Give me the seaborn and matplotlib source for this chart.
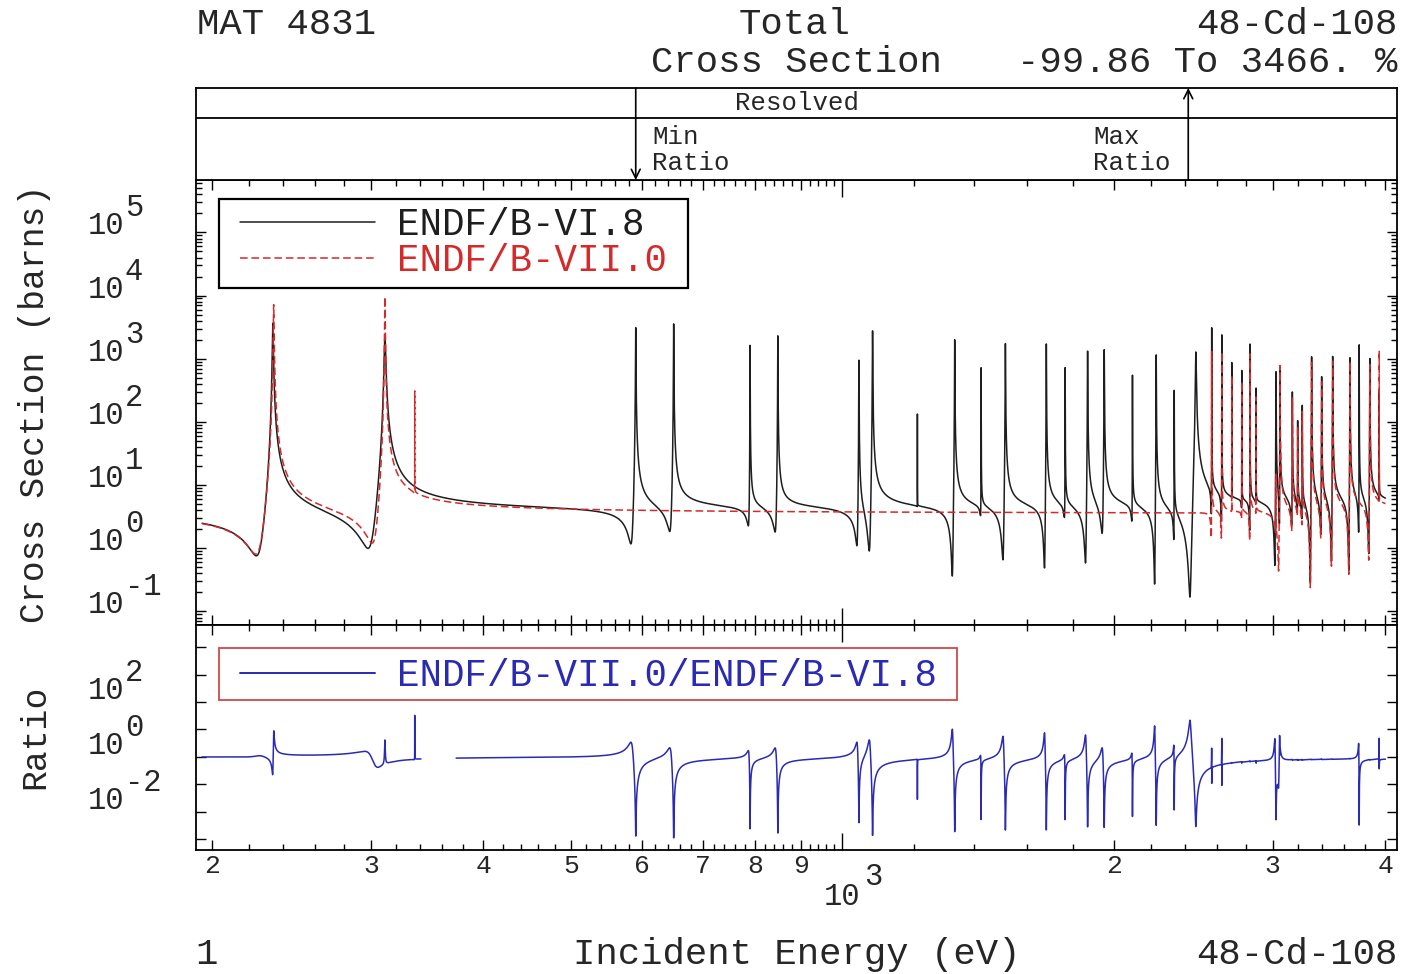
import numpy as np
import pandas as pd
import matplotlib
matplotlib.use("Agg")
import matplotlib.pyplot as plt
import seaborn as sns
from matplotlib.ticker import FixedLocator, NullFormatter, NullLocator
from matplotlib.transforms import blended_transform_factory, offset_copy
from matplotlib.lines import Line2D
from matplotlib.patches import Rectangle

# ---------------- values ----------------
energy_span = [195.0, 4000.0]          # eV, where the evaluations are drawn
x_limits = [192.0, 4120.0]
xs_limits = [10 ** -1.214, 10 ** 5.83]
ratio_limits = [10 ** -3.4, 10 ** 4.81]

bg_vi8 = 3.7      # barns, smooth level between resonances
bg_vii0 = 3.6

# ENDF/B-VI.8 resonances: energy (eV), peak (b), dip (b), dip distance below peak (eV)
vi8_energy = [233.6, 311.0, 590, 650, 790, 848, 1043, 1080, 1211, 1332, 1425, 1516,
              1683, 1766, 1870, 1951, 2097, 2228, 2333, 2465,
              2567.2, 2634.3, 2702, 2772, 2831, 2875, 3025, 3056, 3154, 3197, 3235,
              3313, 3399, 3496, 3654, 3741, 3844, 3937]
vi8_peak = [4400, 1900, 2940, 2680, 1420, 1860, 1140, 1950, 105, 1700, 575, 1410,
            1380, 550, 1140, 930, 433, 1050, 340, 955,
            1290, 1210, 490, 417, 1140, 222, 520, 300, 197, 66, 128,
            750, 320, 665, 665, 955, 590, 150]
vi8_dip = [0.88, 0.78, 1.09, 1.35, 1.95, 1.44, 1.23, 0.59, 3.7, 0.30, 2.6, 0.52,
           0.38, 2.3, 0.48, 1.10, 2.1, 0.23, 1.44, 0.106,
           1.44, 1.35, 3.6, 2.8, 1.27, 3.2, 0.40, 1.0, 1.5, 2.5, 2.0,
           0.18, 1.0, 0.35, 0.26, 1.0, 0.45, 3.0]
vi8_offset = [10.6, 14.5, 8.0, 7.3, 4.0, 6.5, 6.1, 10.0, 1.0, 8.9, 2.6, 10.5,
              8.6, 4.0, 11.0, 11.5, 4.0, 10.0, 3.0, 40.0,
              3.0, 3.0, 2.0, 2.0, 3.0, 2.0, 10.0, 5.0, 6.0, 4.0, 4.0,
              12.0, 8.0, 12.0, 12.0, 6.0, 12.0, 2.0]

# ENDF/B-VII.0 resonances (same columns)
vii0_energy = [234.1, 311.0, 335.6,
               2567, 2634, 2702, 2772, 2831, 2875, 3025, 3056, 3154, 3197, 3235,
               3313, 3399, 3496, 3654, 3844, 3937]
vii0_peak = [8000, 7700, 145,
             1290, 1210, 490, 417, 1140, 222, 25, 750, 197, 66, 128,
             750, 320, 665, 665, 590, 850]
vii0_dip = [0.88, 0.94, 3.6,
            1.44, 1.35, 3.6, 2.8, 1.27, 3.2, 3.0, 0.40, 1.5, 2.5, 2.0,
            0.18, 1.0, 0.35, 0.26, 0.45, 3.6]
vii0_offset = [11.5, 11.0, 0.5,
               3.0, 3.0, 2.0, 2.0, 3.0, 2.0, 1.0, 12.0, 6.0, 4.0, 4.0,
               12.0, 8.0, 12.0, 12.0, 12.0, 3.0]

ratio_gap = [341.0, 373.0]       # eV, stretch with no ratio drawn
min_ratio_energy = 590.0
max_ratio_energy = 2418.0

x_major = [200, 300, 400, 500, 600, 700, 800, 900, 1000, 2000, 3000, 4000]
x_major_labels = ["2", "3", "4", "5", "6", "7", "8", "9", "", "2", "3", "4"]
x_minor = [e for e in list(range(220, 1000, 20)) + list(range(1200, 4001, 200))
           if e not in x_major]
xs_exponents = [-1, 0, 1, 2, 3, 4, 5]
ratio_exponents = [-3, -2, -1, 0, 1, 2, 3, 4]
ratio_label_exponents = [-2, 0, 2]

# ---------------- resonance line shapes ----------------
def res_params(bg, e0, p, d, w):
    r = min(d / bg, 0.97)
    eps = r / (1.0 - r)
    a = np.sqrt((p / bg - 1.0) * (1.0 + eps))
    g = 2.0 * w / a
    return eps, a, g


def cross_section(E, bg, energies, peaks, dips, offsets):
    s = np.full(E.shape, bg, dtype=float)
    for e0, p, d, w in zip(energies, peaks, dips, offsets):
        eps, a, g = res_params(bg, e0, p, d, w)
        t = a * (g / 2.0) / (E - e0 + 1j * g / 2.0)
        reach = np.where(E < e0, np.exp(-np.clip(e0 - E, 0, None) / (10.0 * w)), 1.0)
        t = t * reach
        s *= (np.abs(1.0 + t) ** 2 + eps) / (1.0 + eps)
    return s


grid = [np.geomspace(energy_span[0], energy_span[1], 30000)]
steps = np.geomspace(1e-2, 3e3, 400)
for bg, tab in ((bg_vi8, zip(vi8_energy, vi8_peak, vi8_dip, vi8_offset)),
                (bg_vii0, zip(vii0_energy, vii0_peak, vii0_dip, vii0_offset))):
    for e0, p, d, w in tab:
        _, _, g = res_params(bg, e0, p, d, w)
        grid.append(np.concatenate([e0 - g * steps, [e0], e0 + g * steps]))
E = np.unique(np.concatenate(grid))
E = E[(E >= energy_span[0]) & (E <= energy_span[1])]

sig6 = cross_section(E, bg_vi8, vi8_energy, vi8_peak, vi8_dip, vi8_offset)
sig7 = cross_section(E, bg_vii0, vii0_energy, vii0_peak, vii0_dip, vii0_offset)
ratio = sig7 / sig6

df = pd.DataFrame({"E": E, "VI8": sig6, "VII0": sig7, "ratio": ratio})
df["seg"] = np.where(df["E"] < ratio_gap[0], 0, np.where(df["E"] > ratio_gap[1], 1, -1))
dfr = df[df["seg"] >= 0]

# ---------------- figure ----------------
sns.set_theme(style="white")
plt.rcParams["font.family"] = ["Liberation Mono", "DejaVu Sans Mono"]
plt.rcParams["axes.edgecolor"] = "black"
plt.rcParams["axes.linewidth"] = 1.3

c_black = "#1e1e1e"
c_red = "#d42a2a"
c_blue = "#2a2ab4"

W, H = 1404, 974
def fx(px):
    return px / W
def fy(py):
    return 1 - py / H

L, R = 196, 1397
fig = plt.figure(figsize=(14.04, 9.74), dpi=100)
ax = fig.add_axes([fx(L), fy(625), (R - L) / W, (625 - 180) / H])
axr = fig.add_axes([fx(L), fy(850), (R - L) / W, (850 - 625) / H])
hax = fig.add_axes([fx(L), fy(180), (R - L) / W, (180 - 88) / H])

sns.lineplot(data=df, x="E", y="VI8", ax=ax, color=c_black, lw=1.1,
             estimator=None, sort=False, label="ENDF/B-VI.8")
sns.lineplot(data=df, x="E", y="VII0", ax=ax, color=c_red, lw=1.1,
             estimator=None, sort=False, label="ENDF/B-VII.0", linestyle="--")
ax.lines[-1].set_dashes((5, 2.5))
sns.lineplot(data=dfr, x="E", y="ratio", units="seg", ax=axr, color=c_blue, lw=1.1,
             estimator=None, sort=False)

for a_ in (ax, axr, hax):
    a_.set_xscale("log")
    a_.set_xlim(*x_limits)
    a_.set_xlabel("")
    a_.set_ylabel("")
    for sp in a_.spines.values():
        sp.set_visible(True)
        sp.set_color("black")
        sp.set_linewidth(1.3)

ax.set_yscale("log")
ax.set_ylim(*xs_limits)
axr.set_yscale("log")
axr.set_ylim(*ratio_limits)

for a_ in (ax, axr):
    a_.xaxis.set_major_locator(FixedLocator(x_major))
    a_.xaxis.set_minor_locator(FixedLocator(x_minor))
    a_.xaxis.set_major_formatter(NullFormatter())
    a_.xaxis.set_minor_formatter(NullFormatter())
    a_.yaxis.set_major_formatter(NullFormatter())
    a_.yaxis.set_minor_formatter(NullFormatter())
    a_.tick_params(which="both", direction="in", top=True, right=True,
                   bottom=True, left=True, color="black", width=1.0)
    a_.tick_params(which="major", length=7)
    a_.tick_params(which="minor", length=4)

ax.yaxis.set_major_locator(FixedLocator([10.0 ** k for k in xs_exponents]))
ax.yaxis.set_minor_locator(FixedLocator([m * 10.0 ** k for k in range(-2, 6)
                                         for m in range(2, 10)]))
axr.yaxis.set_major_locator(FixedLocator([10.0 ** k for k in ratio_exponents]))
axr.yaxis.set_minor_locator(NullLocator())

# long tick at 10^3
for a_ in (ax, axr):
    t = a_.xaxis.get_major_ticks()[x_major.index(1000)]
    t.tick1line.set_markersize(12)
    t.tick2line.set_markersize(12)

hax.set_ylim(0, 1)
hax.set_xticks([])
hax.set_yticks([])
hax.xaxis.set_minor_locator(NullLocator())
hax.axhline((180 - 118) / (180 - 88), color="black", lw=1.3)
hax.annotate("", xy=(min_ratio_energy, 0.0), xytext=(min_ratio_energy, 1.0),
             arrowprops=dict(arrowstyle="->", lw=1.2, color="black",
                             shrinkA=0, shrinkB=0, mutation_scale=16))
hax.annotate("", xy=(max_ratio_energy, 1.0), xytext=(max_ratio_energy, 0.0),
             arrowprops=dict(arrowstyle="->", lw=1.2, color="black",
                             shrinkA=0, shrinkB=0, mutation_scale=16))

# legends (frames drawn as boxes at the reference positions)
leg_fs = 27
leg = ax.legend(loc="upper left", bbox_to_anchor=((240 - L) / (R - L), (625 - 207) / 445),
                borderaxespad=0, borderpad=0, fontsize=leg_fs, handlelength=3.6,
                handletextpad=0.6, labelspacing=0.0, frameon=False)
for txt, col in zip(leg.get_texts(), [c_black, c_red]):
    txt.set_color(col)
fig.add_artist(Rectangle((fx(219), fy(288)), (688 - 219) / W, (288 - 199) / H,
                         transform=fig.transFigure, fill=False, ec="black", lw=1.6))

leg2 = axr.legend(handles=[Line2D([], [], color=c_blue, lw=1.4)],
                  labels=["ENDF/B-VII.0/ENDF/B-VI.8"],
                  loc="upper left",
                  bbox_to_anchor=((240 - L) / (R - L), (850 - 658) / 225),
                  borderaxespad=0, borderpad=0, fontsize=leg_fs, handlelength=3.6,
                  handletextpad=0.6, frameon=False)
leg2.get_texts()[0].set_color(c_blue)
fig.add_artist(Rectangle((fx(219), fy(700)), (957 - 219) / W, (700 - 648) / H,
                         transform=fig.transFigure, fill=False, ec="#d04848", lw=1.3))

# y tick labels
tick_fs = 22
def ylabels(a_, exps, dy_base, dy_sup):
    tb = blended_transform_factory(fig.transFigure, a_.transData)
    for k in exps:
        fig_t = offset_copy(tb, fig=fig, y=dy_base, units="dots")
        a_.text(fx(124), 10.0 ** k, "10", transform=fig_t, ha="right", va="center",
                fontsize=tick_fs, clip_on=False)
        sup_t = offset_copy(tb, fig=fig, y=dy_sup, units="dots")
        a_.text(fx(125), 10.0 ** k, str(k), transform=sup_t,
                ha="left", va="center", fontsize=tick_fs, clip_on=False)

ylabels(ax, xs_exponents, 6, 24)
ylabels(axr, ratio_label_exponents, 11, 29)

# x tick labels
tbx = blended_transform_factory(axr.transData, fig.transFigure)
for e, lab in zip(x_major, x_major_labels):
    if lab:
        axr.text(e, fy(866), lab, transform=tbx, ha="center", va="center",
                 fontsize=19, clip_on=False)
axr.text(1000, fy(897), "10", transform=tbx, ha="center", va="center",
         fontsize=tick_fs, clip_on=False)
axr.text(1000, fy(877), "3", transform=offset_copy(tbx, fig=fig, x=22, units="dots"),
         ha="left", va="center", fontsize=tick_fs, clip_on=False)

# header & axis titles
fs_big = 26.8
fig.text(fx(197), fy(25), "MAT 4831", ha="left", va="center", fontsize=fs_big)
fig.text(fx(795), fy(25), "Total", ha="center", va="center", fontsize=fs_big)
fig.text(fx(1397), fy(25), "48-Cd-108", ha="right", va="center", fontsize=fs_big)
fig.text(fx(796), fy(62), "Cross Section", ha="center", va="center", fontsize=fs_big)
fig.text(fx(1397), fy(62), "-99.86 To 3466. %", ha="right", va="center", fontsize=fs_big)

fs_band = 18.5
fig.text(fx(735), fy(103), "Resolved", ha="left", va="center", fontsize=fs_band)
fig.text(fx(652), fy(137), "Min", ha="left", va="center", fontsize=fs_band)
fig.text(fx(652), fy(163), "Ratio", ha="left", va="center", fontsize=fs_band)
fig.text(fx(1093), fy(137), "Max", ha="left", va="center", fontsize=fs_band)
fig.text(fx(1093), fy(163), "Ratio", ha="left", va="center", fontsize=fs_band)

fig.text(fx(35), fy(404), "Cross Section (barns)", rotation=90, ha="center",
         va="center", fontsize=25)
fig.text(fx(35), fy(737), "Ratio", rotation=90, ha="center", va="center", fontsize=25)

fig.text(fx(207), fy(955), "1", ha="center", va="center", fontsize=fs_big)
fig.text(fx(797), fy(955), "Incident Energy (eV)", ha="center", va="center",
         fontsize=fs_big)
fig.text(fx(1397), fy(955), "48-Cd-108", ha="right", va="center", fontsize=fs_big)

fig.savefig("out.png", dpi=100, facecolor="white")
